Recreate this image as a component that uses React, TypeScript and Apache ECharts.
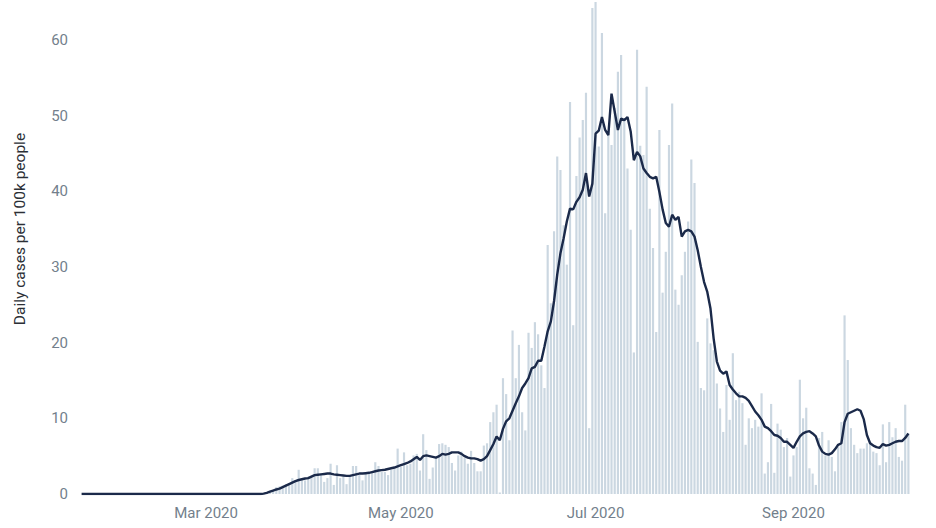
import React, { useEffect, useRef } from "react";
import * as echarts from "echarts";

// first day of the series (one value per day)
const START_DATE = "2020-01-22";

// x-axis tick labels and the dates they sit on
const tickDates = ["2020-03-01", "2020-05-01", "2020-07-01", "2020-09-01"];
const tickLabels = ["Mar 2020", "May 2020", "Jul 2020", "Sep 2020"];

// y-axis tick labels
const yTicks = [0, 10, 20, 30, 40, 50, 60];

// daily cases per 100k people (bars)
const dailyCases = [
  0, 0, 0, 0, 0, 0, 0, 0, 0, 0,
  0, 0, 0, 0, 0, 0, 0, 0, 0, 0,
  0, 0, 0, 0, 0, 0, 0, 0, 0, 0,
  0, 0, 0, 0, 0, 0, 0, 0, 0, 0,
  0, 0, 0, 0, 0, 0, 0, 0, 0, 0,
  0, 0, 0, 0, 0, 0, 0, 0.1, 0.2, 0.3,
  0.5, 0.9, 1.0, 1.1, 1.3, 1.4, 2.1, 1.8, 3.2, 1.9,
  1.8, 2.3, 2.4, 3.4, 3.4, 2.7, 1.6, 2.1, 4.0, 1.2,
  3.8, 2.1, 2.3, 1.3, 2.5, 3.7, 3.7, 2.5, 1.8, 2.7,
  2.9, 2.9, 4.2, 3.7, 2.9, 2.9, 2.5, 3.2, 3.4, 6.0,
  3.6, 5.5, 3.8, 4.0, 5.1, 5.3, 3.1, 7.9, 5.8, 2.0,
  3.5, 4.8, 6.6, 6.7, 6.5, 6.2, 4.1, 3.1, 5.1, 5.6,
  4.8, 4.0, 5.7, 4.1, 3.0, 3.0, 6.4, 6.7, 9.5, 10.8,
  11.8, 0.2, 15.3, 13.2, 7.1, 21.6, 15.3, 19.7, 10.8, 8.4,
  21.3, 19.3, 22.7, 21.1, 17.0, 14.0, 32.9, 25.2, 34.7, 44.6,
  42.8, 35.5, 30.3, 51.8, 22.3, 42.0, 47.1, 49.4, 53.0, 8.7,
  64.2, 65.5, 45.9, 60.9, 37.1, 48.0, 46.1, 51.0, 55.8, 58.0,
  49.6, 43.0, 34.9, 18.7, 58.7, 46.0, 44.8, 53.8, 37.7, 32.5,
  21.4, 48.1, 26.6, 32.0, 46.1, 51.6, 27.0, 25.0, 28.9, 32.0,
  36.0, 44.2, 41.1, 20.1, 14.0, 13.7, 23.2, 19.9, 19.0, 14.6,
  11.3, 8.2, 14.4, 9.8, 18.6, 12.4, 13.5, 12.0, 6.5, 10.0,
  8.7, 9.8, 8.9, 13.3, 2.7, 4.2, 11.9, 2.8, 9.3, 8.5,
  6.2, 7.4, 2.3, 5.1, 6.2, 15.1, 10.0, 11.4, 3.4, 2.7,
  1.2, 7.4, 8.2, 5.1, 7.1, 4.9, 3.0, 6.2, 9.5, 23.6,
  17.7, 8.7, 6.5, 5.4, 6.0, 6.0, 6.7, 6.9, 5.6, 5.4,
  3.8, 9.2, 4.2, 9.5, 7.5, 8.7, 4.9, 4.4, 11.8, 8.0,
];

// 7-day average line
const weeklyAverage = [
  0, 0, 0, 0, 0, 0, 0, 0, 0, 0,
  0, 0, 0, 0, 0, 0, 0, 0, 0, 0,
  0, 0, 0, 0, 0, 0, 0, 0, 0, 0,
  0, 0, 0, 0, 0, 0, 0, 0, 0, 0,
  0, 0, 0, 0, 0, 0, 0, 0, 0, 0,
  0, 0, 0, 0, 0, 0, 0, 0.05, 0.15, 0.3,
  0.45, 0.6, 0.7, 0.9, 1.1, 1.3, 1.5, 1.7, 1.85, 1.95,
  2.05, 2.1, 2.3, 2.5, 2.55, 2.6, 2.65, 2.7, 2.7, 2.6,
  2.55, 2.5, 2.45, 2.4, 2.4, 2.5, 2.6, 2.7, 2.7, 2.75,
  2.8, 2.9, 3.0, 3.1, 3.15, 3.2, 3.3, 3.4, 3.5, 3.65,
  3.8, 3.95, 4.1, 4.3, 4.6, 4.9, 4.5, 5.0, 5.1, 5.0,
  4.9, 4.8, 5.0, 5.3, 5.2, 5.3, 5.5, 5.5, 5.5, 5.3,
  5.0, 4.8, 4.7, 4.7, 4.6, 4.4, 4.6, 5.0, 5.8, 6.6,
  7.6, 7.1, 8.6, 9.6, 10.0, 11.0, 12.0, 12.9, 14.0, 14.6,
  15.3, 16.6, 16.8, 17.6, 17.6, 19.5, 21.5, 22.8, 25.5, 29.0,
  31.8, 33.8, 36.0, 37.7, 37.6, 38.6, 39.2, 40.2, 42.4, 39.3,
  41.0, 47.6, 48.0, 49.8, 48.1, 47.4, 52.9, 50.5, 48.1, 49.6,
  49.4, 49.8, 47.9, 44.1, 45.2, 44.6, 43.0, 42.4, 41.9, 41.7,
  41.9, 39.9, 37.6, 35.8, 35.3, 36.9, 36.2, 36.6, 34.0, 34.7,
  34.9, 34.7, 34.0, 32.2, 30.0, 28.0, 26.7, 24.5, 20.5, 17.5,
  16.3, 15.9, 16.2, 14.4, 13.8, 13.3, 12.9, 12.9, 12.7, 12.3,
  11.6, 10.9, 10.4, 9.8, 8.9, 8.7, 8.3, 7.8, 7.7, 7.4,
  6.9, 6.9, 6.5, 6.1, 6.9, 7.6, 8.0, 8.2, 8.3, 8.0,
  7.6, 6.4, 5.6, 5.3, 5.2, 5.4, 5.9, 6.5, 6.7, 9.5,
  10.6, 10.8, 11.0, 11.2, 11.0, 9.9, 7.8, 6.7, 6.4, 6.2,
  6.1, 6.6, 6.4, 6.5, 6.7, 6.9, 7.0, 7.0, 7.4, 8.0,
];

const Y_NAME = "Daily cases per 100k people";

function buildDates(start: string, n: number): string[] {
  const out: string[] = [];
  const d0 = new Date(start + "T00:00:00Z");
  for (let i = 0; i < n; i++) {
    const d = new Date(d0.getTime() + i * 86400000);
    out.push(d.toISOString().slice(0, 10));
  }
  return out;
}

export default function App() {
  const ref = useRef<HTMLDivElement>(null);

  useEffect(() => {
    if (!ref.current) return;
    const chart = echarts.init(ref.current, null, { renderer: "svg" });
    const dates = buildDates(START_DATE, dailyCases.length);
    const labelColor = "#737f8c";
    const font = "Roboto, 'Noto Sans', sans-serif";

    chart.setOption({
      animation: false,
      backgroundColor: "#ffffff",
      grid: { left: 80, right: 26, top: 2, bottom: 34, containLabel: false },
      xAxis: {
        type: "category",
        data: dates,
        boundaryGap: true,
        axisLine: { show: false },
        axisTick: { show: false },
        splitLine: { show: false },
        axisLabel: {
          interval: (idx: number, val: string) => tickDates.indexOf(val) >= 0,
          formatter: (val: string) => {
            const k = tickDates.indexOf(val);
            return k >= 0 ? tickLabels[k] : "";
          },
          color: labelColor,
          fontSize: 15,
          fontFamily: font,
          margin: 11,
        },
      },
      yAxis: {
        type: "value",
        min: 0,
        max: 65,
        interval: 10,
        axisLine: { show: false },
        axisTick: { show: false },
        splitLine: { show: false },
        axisLabel: {
          formatter: (v: number) => (yTicks.indexOf(v) >= 0 ? String(v) : ""),
          color: labelColor,
          fontSize: 15,
          fontFamily: font,
          margin: 12,
        },
      },
      graphic: [
        {
          type: "text",
          x: 20,
          y: 229,
          rotation: Math.PI / 2,
          style: {
            text: Y_NAME,
            fill: "#2b2f36",
            fontSize: 15.5,
            fontFamily: font,
            textAlign: "center",
            textVerticalAlign: "middle",
          },
        },
      ],
      series: [
        {
          type: "bar",
          data: dailyCases,
          barCategoryGap: "32%",
          itemStyle: { color: "#cbd7e1" },
          silent: true,
          z: 1,
        },
        {
          type: "line",
          data: weeklyAverage,
          symbol: "none",
          showSymbol: false,
          lineStyle: { color: "#1b2a4a", width: 2.4 },
          itemStyle: { color: "#1b2a4a" },
          silent: true,
          z: 3,
        },
      ],
    });

    return () => {
      chart.dispose();
    };
  }, []);

  return (
    <div
      ref={ref}
      style={{ position: "absolute", left: 0, top: 0, width: 936, height: 528 }}
    />
  );
}
